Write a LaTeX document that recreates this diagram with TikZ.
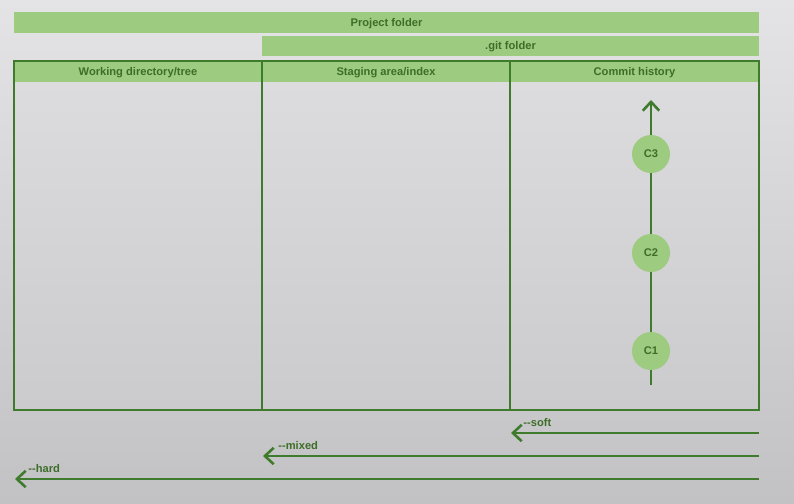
\documentclass[tikz,border=0pt]{standalone}
\usepackage{fontspec}
\setmainfont{Liberation Sans}
\usetikzlibrary{arrows.meta}
\definecolor{barfill}{HTML}{9DCB7F}
\definecolor{edgegreen}{HTML}{3E7B2C}
\definecolor{labelgreen}{HTML}{3D6E29}
\definecolor{bgtop}{HTML}{E4E3E5}
\definecolor{bgbottom}{HTML}{C2C1C3}
\definecolor{celltop}{HTML}{DCDBDD}
\definecolor{cellbottom}{HTML}{CBCACC}

\begin{document}
\begin{tikzpicture}[x=0.03cm, y=-0.03cm,
    label text/.style={font=\fontsize{9.5}{11}\selectfont\bfseries, text=labelgreen, inner sep=1pt},
    frame/.style={draw=edgegreen, line width=1.6pt},
    commit/.style={circle, fill=barfill, minimum size=1.14cm, inner sep=0pt,
      font=\fontsize{9.5}{11}\selectfont\bfseries, text=labelgreen},
    reset/.style={draw=edgegreen, line width=2.2pt, -{Straight Barb[length=7.5pt, width=14pt, line width=2.2pt]}}]

        % background
        \shade[top color=bgtop, bottom color=bgbottom] (0,0) rectangle (794,503);
        \useasboundingbox (0,0) rectangle (794,503);

        % folder bars
        \fill[barfill] (14,12) rectangle (759,33);
        \fill[barfill] (262,36) rectangle (759,56);
        \node[label text] (project) at (386.5,23.5) {Project folder};
        \node[label text] (gitfolder) at (510.5,47) {.git folder};

        % table
        \fill[barfill] (14,61) rectangle (759,82);
        \shade[top color=celltop, bottom color=cellbottom] (14,82) rectangle (759,410);
        \draw[frame] (14,61) rectangle (759,410);
        \draw[frame] (262,61) -- (262,410);
        \draw[frame] (510,61) -- (510,410);
        \node[label text] (working) at (138,72.5) {Working directory/tree};
        \node[label text] (staging) at (386,72.5) {Staging area/index};
        \node[label text] (history) at (634.5,72.5) {Commit history};

        % commits
        \node[commit] (c1) at (651,351) {C1};
        \node[commit] (c2) at (651,253) {C2};
        \node[commit] (c3) at (651,154) {C3};
        \coordinate (tail) at (651,385);
        \coordinate (head) at (651,100);
        \draw[edgegreen, line width=2.2pt] (tail) -- (c1);
        \draw[edgegreen, line width=2.2pt] (c1) -- (c2);
        \draw[edgegreen, line width=2.2pt] (c2) -- (c3);
        \draw[reset] (c3) -- (head);

        % reset modes
        \coordinate (softstart) at (759,433);
        \coordinate (softend) at (511,433);
        \coordinate (mixedstart) at (759,456);
        \coordinate (mixedend) at (263,456);
        \coordinate (hardstart) at (759,479);
        \coordinate (hardend) at (15,479);
        \draw[reset] (softstart) -- (softend);
        \draw[reset] (mixedstart) -- (mixedend);
        \draw[reset] (hardstart) -- (hardend);
        \node[label text, anchor=west] (soft) at (522,423) {{-}{-}soft};
        \node[label text, anchor=west] (mixed) at (277,446) {{-}{-}mixed};
        \node[label text, anchor=west] (hard) at (27,469) {{-}{-}hard};
      \end{tikzpicture}
\end{document}
